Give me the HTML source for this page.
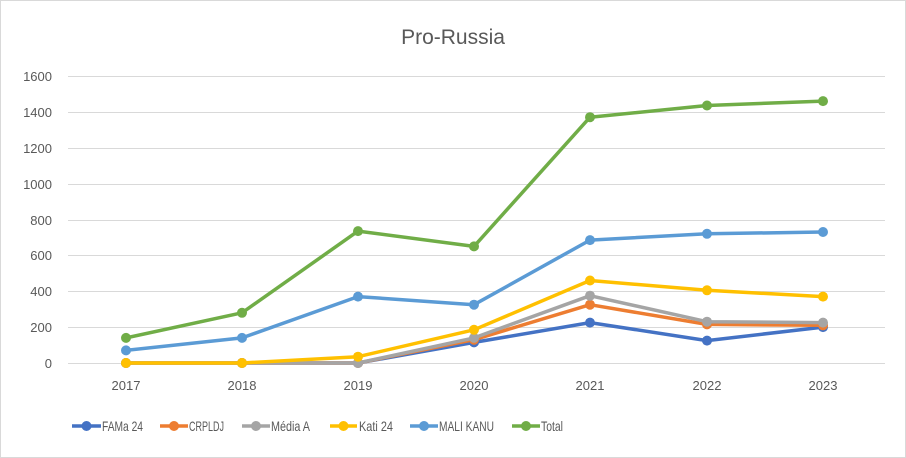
<!DOCTYPE html>
<html><head><meta charset="utf-8"><style>
html,body{margin:0;padding:0;background:#fff}
svg{display:block;font-family:"Liberation Sans",sans-serif}
</style></head><body>
<svg width="906" height="458" viewBox="0 0 906 458">
<rect x="0.5" y="0.5" width="905" height="457" fill="#fff" stroke="#d9d9d9"/>
<text x="453" y="44" text-anchor="middle" font-size="21" fill="#595959">Pro-Russia</text>
<g stroke="#d9d9d9" stroke-width="1">
<line x1="68" x2="885" y1="76.5" y2="76.5"/><line x1="68" x2="885" y1="112.5" y2="112.5"/>
<line x1="68" x2="885" y1="148.5" y2="148.5"/><line x1="68" x2="885" y1="184.5" y2="184.5"/>
<line x1="68" x2="885" y1="220.5" y2="220.5"/><line x1="68" x2="885" y1="255.5" y2="255.5"/>
<line x1="68" x2="885" y1="291.5" y2="291.5"/><line x1="68" x2="885" y1="327.5" y2="327.5"/>
<line x1="68" x2="885" y1="363.5" y2="363.5"/>
</g>
<g font-size="13" fill="#595959" text-anchor="end">
<text x="52" y="81">1600</text><text x="52" y="117">1400</text><text x="52" y="153">1200</text>
<text x="52" y="189">1000</text><text x="52" y="225">800</text><text x="52" y="260">600</text>
<text x="52" y="296">400</text><text x="52" y="332">200</text><text x="52" y="368">0</text>
</g>
<g font-size="13" fill="#595959" text-anchor="middle">
<text x="126" y="390">2017</text><text x="242" y="390">2018</text><text x="358" y="390">2019</text>
<text x="474" y="390">2020</text><text x="590" y="390">2021</text><text x="707" y="390">2022</text>
<text x="823" y="390">2023</text>
</g>
<g fill="none" stroke-width="3.5" stroke-linejoin="round">
<polyline stroke="#4472c4" points="126,363 242,363 358,363 474,342.4 590,322.6 707,340.6 823,327.1"/>
</g>
<g fill="#4472c4"><circle cx="126" cy="363" r="5"/><circle cx="242" cy="363" r="5"/><circle cx="358" cy="363" r="5"/><circle cx="474" cy="342.4" r="5"/><circle cx="590" cy="322.6" r="5"/><circle cx="707" cy="340.6" r="5"/><circle cx="823" cy="327.1" r="5"/></g>
<polyline fill="none" stroke-width="3.5" stroke-linejoin="round" stroke="#ed7d31" points="126,363 242,363 358,363 474,339.7 590,304.7 707,324.4 823,325.3"/>
<g fill="#ed7d31"><circle cx="126" cy="363" r="5"/><circle cx="242" cy="363" r="5"/><circle cx="358" cy="363" r="5"/><circle cx="474" cy="339.7" r="5"/><circle cx="590" cy="304.7" r="5"/><circle cx="707" cy="324.4" r="5"/><circle cx="823" cy="325.3" r="5"/></g>
<polyline fill="none" stroke-width="3.5" stroke-linejoin="round" stroke="#a5a5a5" points="126,363 242,363 358,363 474,337.9 590,295.7 707,321.7 823,322.6"/>
<g fill="#a5a5a5"><circle cx="126" cy="363" r="5"/><circle cx="242" cy="363" r="5"/><circle cx="358" cy="363" r="5"/><circle cx="474" cy="337.9" r="5"/><circle cx="590" cy="295.7" r="5"/><circle cx="707" cy="321.7" r="5"/><circle cx="823" cy="322.6" r="5"/></g>
<polyline fill="none" stroke-width="3.5" stroke-linejoin="round" stroke="#ffc000" points="126,363 242,363 358,356.7 474,329.8 590,280.5 707,290.3 823,296.6"/>
<g fill="#ffc000"><circle cx="126" cy="363" r="5"/><circle cx="242" cy="363" r="5"/><circle cx="358" cy="356.7" r="5"/><circle cx="474" cy="329.8" r="5"/><circle cx="590" cy="280.5" r="5"/><circle cx="707" cy="290.3" r="5"/><circle cx="823" cy="296.6" r="5"/></g>
<polyline fill="none" stroke-width="3.5" stroke-linejoin="round" stroke="#5b9bd5" points="126,350.4 242,337.9 358,296.6 474,304.7 590,240.1 707,233.8 823,232"/>
<g fill="#5b9bd5"><circle cx="126" cy="350.4" r="5"/><circle cx="242" cy="337.9" r="5"/><circle cx="358" cy="296.6" r="5"/><circle cx="474" cy="304.7" r="5"/><circle cx="590" cy="240.1" r="5"/><circle cx="707" cy="233.8" r="5"/><circle cx="823" cy="232" r="5"/></g>
<polyline fill="none" stroke-width="3.5" stroke-linejoin="round" stroke="#70ad47" points="126,337.9 242,312.8 358,231.1 474,246.4 590,117.2 707,105.5 823,101.1"/>
<g fill="#70ad47"><circle cx="126" cy="337.9" r="5"/><circle cx="242" cy="312.8" r="5"/><circle cx="358" cy="231.1" r="5"/><circle cx="474" cy="246.4" r="5"/><circle cx="590" cy="117.2" r="5"/><circle cx="707" cy="105.5" r="5"/><circle cx="823" cy="101.1" r="5"/></g>
<g stroke-width="3.5">
<line x1="72" x2="101" y1="426" y2="426" stroke="#4472c4"/><circle cx="86.5" cy="426" r="5" fill="#4472c4"/>
<line x1="160" x2="188" y1="426" y2="426" stroke="#ed7d31"/><circle cx="174" cy="426" r="5" fill="#ed7d31"/>
<line x1="242" x2="270" y1="426" y2="426" stroke="#a5a5a5"/><circle cx="256" cy="426" r="5" fill="#a5a5a5"/>
<line x1="330" x2="357" y1="426" y2="426" stroke="#ffc000"/><circle cx="343.5" cy="426" r="5" fill="#ffc000"/>
<line x1="410" x2="438" y1="426" y2="426" stroke="#5b9bd5"/><circle cx="424" cy="426" r="5" fill="#5b9bd5"/>
<line x1="512" x2="540" y1="426" y2="426" stroke="#70ad47"/><circle cx="526" cy="426" r="5" fill="#70ad47"/>
</g>
<g font-size="14" fill="#595959" lengthAdjust="spacingAndGlyphs">
<text x="102" y="431" textLength="41" lengthAdjust="spacingAndGlyphs">FAMa 24</text>
<text x="189" y="431" textLength="35" lengthAdjust="spacingAndGlyphs">CRPLDJ</text>
<text x="271" y="431" textLength="39" lengthAdjust="spacingAndGlyphs">Média A</text>
<text x="359" y="431" textLength="34" lengthAdjust="spacingAndGlyphs">Kati 24</text>
<text x="439" y="431" textLength="55" lengthAdjust="spacingAndGlyphs">MALI KANU</text>
<text x="541" y="431" textLength="22" lengthAdjust="spacingAndGlyphs">Total</text>
</g>
</svg>
</body></html>
